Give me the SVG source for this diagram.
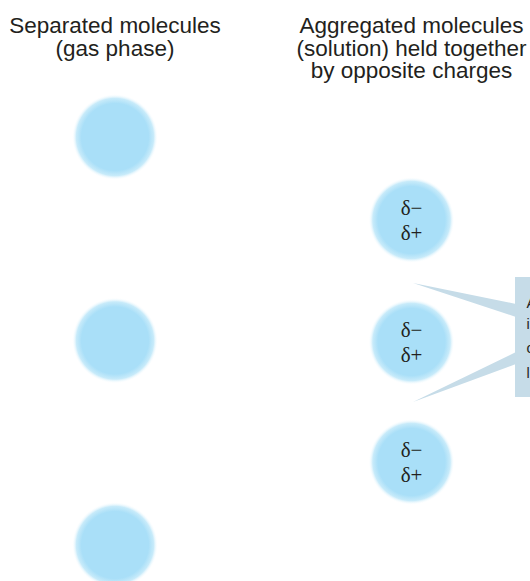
<svg xmlns="http://www.w3.org/2000/svg" width="530" height="581" viewBox="0 0 530 581">
  <style>
    .title { font-family: "Liberation Sans", Arial, sans-serif; font-size: 22.5px; fill: #231f20; text-anchor: middle; }
    .charge { font-family: "Liberation Serif", "Times New Roman", serif; font-size: 21px; fill: #231f20; text-anchor: middle; }
    .note { font-family: "Liberation Sans", Arial, sans-serif; font-size: 14.5px; fill: #231f20; }
    .callout { fill: #c6dce8; }
  </style>
  <defs>
    <radialGradient id="glow" cx="0.5" cy="0.5" r="0.5">
      <stop offset="0" stop-color="#a9dff8"/>
      <stop offset="0.78" stop-color="#a9dff8"/>
      <stop offset="0.9" stop-color="#c8ebfa"/>
      <stop offset="1" stop-color="#ffffff" stop-opacity="0"/>
    </radialGradient>
  </defs>
  <rect width="530" height="581" fill="#ffffff"/>

  <g id="title-left">
    <text class="title" x="115" y="33">Separated molecules</text>
    <text class="title" x="115" y="56">(gas phase)</text>
  </g>
  <g id="title-right">
    <text class="title" x="411.5" y="33">Aggregated molecules</text>
    <text class="title" x="411.5" y="55.5">(solution) held together</text>
    <text class="title" x="411.5" y="78">by opposite charges</text>
  </g>

  <g id="gas-molecule-1"><circle cx="115" cy="137" r="43" fill="url(#glow)"/></g>
  <g id="gas-molecule-2"><circle cx="115" cy="340.5" r="43" fill="url(#glow)"/></g>
  <g id="gas-molecule-3"><circle cx="115" cy="545" r="43" fill="url(#glow)"/></g>

  <g id="solution-molecule-1">
    <circle cx="411.5" cy="220" r="43" fill="url(#glow)"/>
    <text class="charge" x="411.5" y="214.5">δ−</text>
    <text class="charge" x="411.5" y="239.5">δ+</text>
  </g>
  <g id="solution-molecule-2">
    <circle cx="411.5" cy="342" r="43" fill="url(#glow)"/>
    <text class="charge" x="411.5" y="336.5">δ−</text>
    <text class="charge" x="411.5" y="361.5">δ+</text>
  </g>
  <g id="solution-molecule-3">
    <circle cx="411.5" cy="462" r="43" fill="url(#glow)"/>
    <text class="charge" x="411.5" y="456.5">δ−</text>
    <text class="charge" x="411.5" y="481.5">δ+</text>
  </g>

  <g id="connectors">
    <polygon class="callout" points="413,283 516,304 516,317"/>
    <polygon class="callout" points="413,402 516,352 516,364"/>
  </g>

  <g id="callout-box">
    <rect class="callout" x="515" y="277" width="20" height="120"/>
    <text class="note" x="526.5" y="308">A</text>
    <text class="note" x="526.5" y="329">i</text>
    <text class="note" x="526.5" y="353">c</text>
    <text class="note" x="526.5" y="378">l</text>
  </g>
</svg>
